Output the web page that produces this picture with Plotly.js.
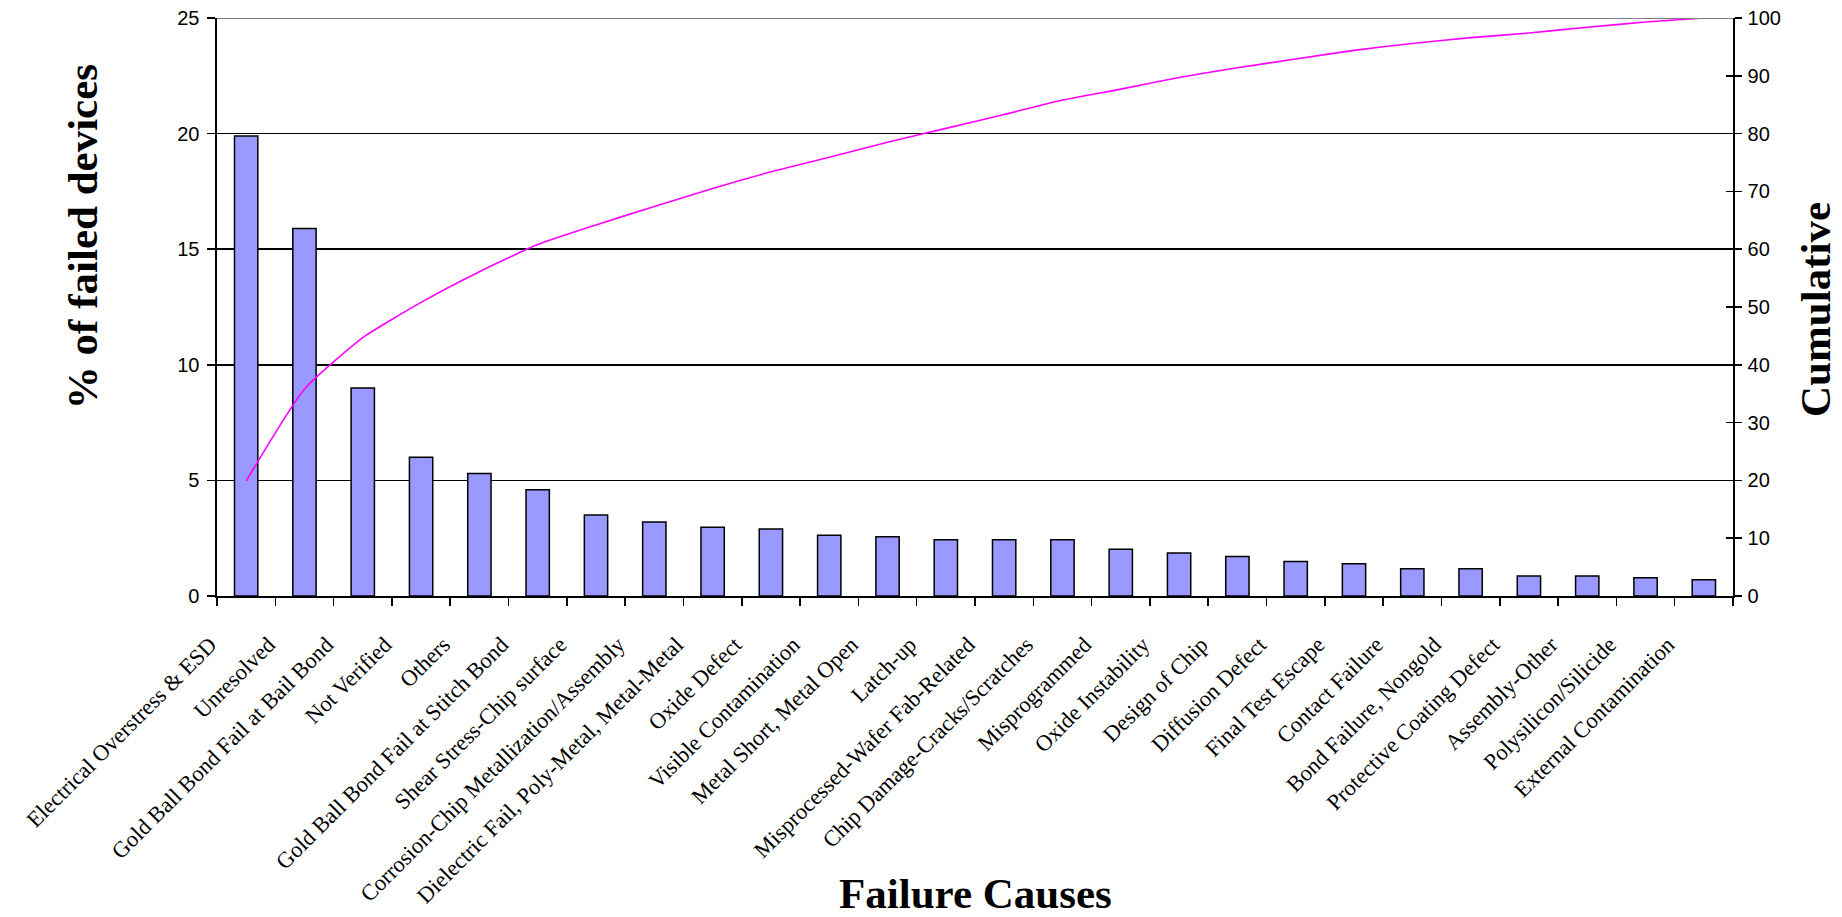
<!DOCTYPE html>
<html>
<head>
<meta charset="utf-8">
<script src="https://cdn.plot.ly/plotly-3.0.1.min.js"></script>
<style>
  html, body { margin: 0; padding: 0; background: #ffffff; }
  #chart { width: 1842px; height: 917px; }
</style>
</head>
<body>
<div id="chart"></div>
<script>
const causes = [
  "Electrical Overstress & ESD",
  "Unresolved",
  "Gold Ball Bond Fail at Bail Bond",
  "Not Verified",
  "Others",
  "Gold Ball Bond Fail at Stitch Bond",
  "Shear Stress-Chip surface",
  "Corrosion-Chip Metallization/Assembly",
  "Dielectric Fail, Poly-Metal, Metal-Metal",
  "Oxide Defect",
  "Visible Contamination",
  "Metal Short, Metal Open",
  "Latch-up",
  "Misprocessed-Wafer Fab-Related",
  "Chip Damage-Cracks/Scratches",
  "Misprogrammed",
  "Oxide Instability",
  "Design of Chip",
  "Diffusion Defect",
  "Final Test Escape",
  "Contact Failure",
  "Bond Failure, Nongold",
  "Protective Coating Defect",
  "Assembly-Other",
  "Polysilicon/Silicide",
  "External Contamination"
];
const percentFailed = [19.9, 15.9, 9.0, 6.0, 5.3, 4.6, 3.5, 3.2, 2.97, 2.9, 2.63, 2.56, 2.43, 2.43, 2.43, 2.02, 1.86, 1.71, 1.49, 1.4, 1.18, 1.18, 0.86, 0.86, 0.79, 0.7];
const cumulative = [19.9, 35.8, 44.7, 50.8, 56.1, 60.8, 64.2, 67.4, 70.5, 73.4, 75.9, 78.5, 80.9, 83.3, 85.8, 87.7, 89.7, 91.4, 92.9, 94.4, 95.6, 96.6, 97.4, 98.4, 99.3, 100];
const leftTicks = [0, 5, 10, 15, 20, 25];
const rightTicks = [0, 10, 20, 30, 40, 50, 60, 70, 80, 90, 100];

const xTitle = "Failure Causes";
const yTitle = "% of failed devices";
const y2Title = "Cumulative";

const serif = "'Liberation Serif', 'Times New Roman', serif";
const sans = "'Liberation Sans', Arial, sans-serif";

const traces = [
  {
    type: 'bar', x: causes, y: percentFailed, yaxis: 'y', width: 0.4,
    marker: { color: '#9999FF', line: { color: '#000000', width: 1.5 } },
    hoverinfo: 'x+y', showlegend: false
  },
  {
    type: 'scatter', mode: 'lines', x: causes, y: cumulative, yaxis: 'y2',
    line: { color: '#FF00FF', width: 1.6, shape: 'spline', smoothing: 0.5 },
    hoverinfo: 'x+y', showlegend: false
  },
  {
    type: 'scatter', mode: 'lines', x: causes, y: cumulative, yaxis: 'y3',
    line: { color: 'rgba(0,0,0,0)', width: 0 }, hoverinfo: 'skip', showlegend: false
  }
];

const layout = {
  width: 1842, height: 917,
  margin: { l: 217, r: 109, t: 18, b: 321 },
  paper_bgcolor: '#ffffff', plot_bgcolor: '#ffffff',
  showlegend: false,
  bargap: 0.6,
  xaxis: {
    type: 'category', range: [-0.5, 25.5],
    tickson: 'boundaries', ticks: 'outside', ticklen: 8, tickwidth: 1.5, tickcolor: '#000000',
    showline: true, linecolor: '#000000', linewidth: 1.6,
    showgrid: false, zeroline: false,
    tickangle: -45,
    tickfont: { family: serif, size: 22.5, color: '#000000' },
    ticklabelshift: -36, ticklabelstandoff: 25,
    automargin: false, fixedrange: true
  },
  yaxis: {
    range: [0, 25], tickvals: leftTicks, ticktext: leftTicks.map(String),
    ticks: 'outside', ticklen: 8, tickwidth: 1.5, tickcolor: '#000000',
    showline: true, linecolor: '#000000', linewidth: 1.6,
    showgrid: true, gridcolor: '#000000', gridwidth: 1.5, zeroline: false,
    tickfont: { family: sans, size: 20, color: '#000000' },
    ticklabelstandoff: 4,
    automargin: false, fixedrange: true
  },
  yaxis2: {
    overlaying: 'y', side: 'right', anchor: 'x',
    range: [0, 100], tickvals: rightTicks, ticktext: rightTicks.map(String),
    ticks: 'outside', ticklen: 7, tickwidth: 1.5, tickcolor: '#000000',
    showline: true, linecolor: '#000000', linewidth: 1.6,
    showgrid: false, zeroline: false,
    tickfont: { family: sans, size: 20, color: '#000000' },
    ticklabelstandoff: 2,
    automargin: false, fixedrange: true
  },
  yaxis3: {
    overlaying: 'y', side: 'right', anchor: 'x',
    range: [0, 100], tickvals: rightTicks,
    ticks: 'inside', ticklen: 7, tickwidth: 1.5, tickcolor: '#000000',
    showticklabels: false, showline: false, showgrid: false, zeroline: false,
    automargin: false, fixedrange: true
  },
  shapes: [
    { type: 'line', xref: 'paper', yref: 'y', x0: 0, x1: 1, y0: 25, y1: 25,
      line: { color: '#808080', width: 1.8 }, layer: 'above' }
  ],
  annotations: [
    { text: '<b>' + xTitle + '</b>', xref: 'paper', yref: 'paper', x: 0.5, y: -0.515,
      xanchor: 'center', yanchor: 'middle', showarrow: false,
      font: { family: serif, size: 43, color: '#000000' } },
    { text: '<b>' + yTitle + '</b>', xref: 'paper', yref: 'paper', x: -0.089, y: 0.621,
      xanchor: 'center', yanchor: 'middle', showarrow: false, textangle: -90,
      font: { family: serif, size: 43, color: '#000000' } },
    { text: '<b>' + y2Title + '</b>', xref: 'paper', yref: 'paper', x: 1.0548, y: 0.495,
      xanchor: 'center', yanchor: 'middle', showarrow: false, textangle: -90,
      font: { family: serif, size: 43, color: '#000000' } }
  ]
};

Plotly.newPlot('chart', traces, layout, { displayModeBar: false, staticPlot: true });
</script>
</body>
</html>
